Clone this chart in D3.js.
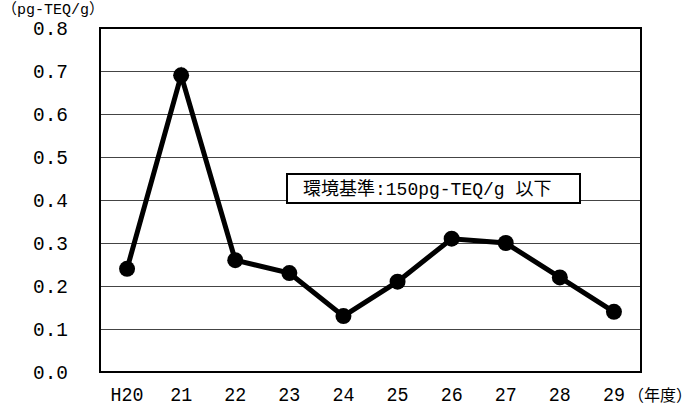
<!DOCTYPE html>
<html><head><meta charset="utf-8">
<script src="https://cdn.jsdelivr.net/npm/d3@7"></script>
<style>body{margin:0;background:#fff}svg{display:block}</style>
</head><body>
<script>
const categories = ["H20","21","22","23","24","25","26","27","28","29"];
const values = [0.24,0.69,0.26,0.23,0.13,0.21,0.31,0.30,0.22,0.14];
const yTicks = [0,0.1,0.2,0.3,0.4,0.5,0.6,0.7,0.8];
const yUnit = "（pg-TEQ/g）";
const xUnit = "（年度）";
const note = "環境基準:150pg-TEQ/g 以下";

const W=695,H=407;
const m={l:100,r:54,t:28,b:35};
const svg=d3.select("body").append("svg").attr("width",W).attr("height",H);
const x=d3.scaleBand().domain(categories).range([m.l,W-m.r]);
const y=d3.scaleLinear().domain([0,0.8]).range([H-m.b,m.t]);
const font="'Liberation Mono','Noto Sans CJK JP',monospace";

// gridlines
svg.append("g").selectAll("line").data(yTicks.filter(d=>d>0&&d<0.8)).join("line")
  .attr("x1",m.l).attr("x2",W-m.r).attr("y1",d=>y(d)).attr("y2",d=>y(d))
  .attr("stroke","#444").attr("stroke-width",1).attr("shape-rendering","crispEdges");

// y axis labels
const yAxis=d3.axisLeft(y).tickValues(yTicks).tickSize(0).tickPadding(0).tickFormat(d3.format(".1f"));
const ga=svg.append("g").attr("transform",`translate(${68},0)`).call(yAxis);
ga.select(".domain").remove();
ga.selectAll("text").attr("font-family",font).attr("font-size",21).attr("fill","#000")
  .attr("textLength",35).attr("lengthAdjust","spacingAndGlyphs");

// x axis labels
const xAxis=d3.axisBottom(x).tickSize(0).tickPadding(0);
const gx=svg.append("g").attr("transform",`translate(0,0)`).call(xAxis);
gx.select(".domain").remove();
gx.selectAll("text").attr("font-family",font).attr("font-size",20).attr("fill","#000")
  .attr("y",401).attr("dy",null)
  .attr("textLength",d=>d.length*11).attr("lengthAdjust","spacingAndGlyphs");

// plot frame
svg.append("rect").attr("x",m.l).attr("y",m.t).attr("width",W-m.l-m.r).attr("height",H-m.t-m.b)
  .attr("fill","none").attr("stroke","#000").attr("stroke-width",2);

// note box
svg.append("rect").attr("x",287).attr("y",174).attr("width",293).attr("height",29)
  .attr("fill","#fff").attr("stroke","#000").attr("stroke-width",2);
svg.append("text").attr("x",303).attr("y",195)
  .attr("font-family",font).attr("font-size",18).text(note);

// line
const cx=d=>x(d)+x.bandwidth()/2;
svg.append("path").datum(values.map((v,i)=>[categories[i],v]))
  .attr("d",d3.line().x(d=>cx(d[0])).y(d=>y(d[1])))
  .attr("fill","none").attr("stroke","#000").attr("stroke-width",5).attr("stroke-linejoin","miter");
svg.append("g").selectAll("circle").data(values).join("circle")
  .attr("cx",(d,i)=>cx(categories[i])).attr("cy",d=>y(d)).attr("r",8).attr("fill","#000");

// units
svg.append("text").attr("x",2).attr("y",14).attr("font-family",font).attr("font-size",15).text(yUnit);
svg.append("text").attr("x",628).attr("y",401).attr("font-family",font).attr("font-size",16).text(xUnit);
</script>
</body></html>
